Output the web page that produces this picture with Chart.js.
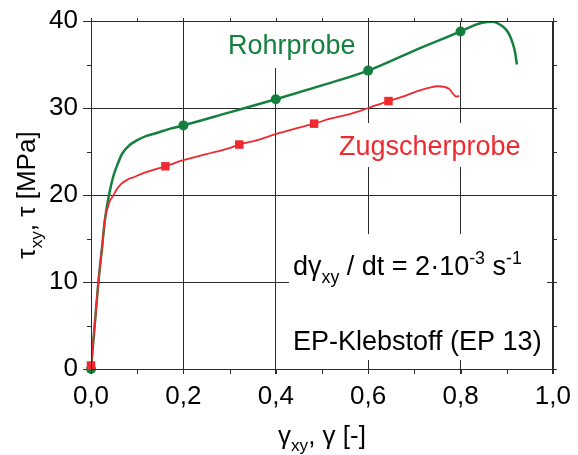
<!DOCTYPE html>
<html>
<head>
<meta charset="utf-8">
<script src="https://cdn.jsdelivr.net/npm/chart.js@4.4.1/dist/chart.umd.min.js"></script>
<style>
  html, body { margin: 0; padding: 0; background: #fff; }
  #wrap { width: 578px; height: 455px; }
</style>
</head>
<body>
<div id="wrap"><canvas id="c" width="578" height="455"></canvas></div>
<script>
// ---- data ----
const xTickValues = [0, 0.2, 0.4, 0.6, 0.8, 1.0];
const yTickValues = [0, 10, 20, 30, 40];

const gammaRohr = [0, 0.008, 0.016, 0.024, 0.030, 0.039, 0.048, 0.058, 0.068, 0.085, 0.10, 0.12, 0.14, 0.17, 0.20, 0.30, 0.40, 0.50, 0.60, 0.70, 0.80, 0.829, 0.847, 0.869, 0.885, 0.897, 0.905, 0.912, 0.918, 0.922];
const tauRohr   = [0, 5, 10, 14, 17.1, 20, 22.1, 23.6, 24.8, 25.8, 26.3, 26.8, 27.1, 27.6, 28.0, 29.5, 31.0, 32.6, 34.3, 36.6, 38.8, 39.5, 39.8, 39.9, 39.6, 39.1, 38.5, 37.6, 36.4, 35.0];

const gammaZug = [0, 0.008, 0.016, 0.024, 0.030, 0.040, 0.049, 0.055, 0.066, 0.080, 0.095, 0.108, 0.13, 0.161, 0.20, 0.25, 0.30, 0.321, 0.36, 0.40, 0.44, 0.483, 0.52, 0.56, 0.60, 0.644, 0.68, 0.705, 0.73, 0.751, 0.775, 0.786, 0.791, 0.797];
const tauZug   = [0.4, 5, 10, 14, 17.1, 19.2, 20.0, 20.6, 21.3, 21.8, 22.1, 22.4, 22.8, 23.3, 24.0, 24.7, 25.4, 25.8, 26.3, 27.0, 27.6, 28.2, 28.8, 29.3, 30.0, 30.8, 31.4, 31.9, 32.3, 32.5, 32.2, 31.5, 31.3, 31.4];

const markRohrX = [0, 0.2, 0.4, 0.6, 0.8];
const markRohrY = [0, 28.0, 31.0, 34.3, 38.8];
const markZugX  = [0, 0.161, 0.321, 0.483, 0.644];
const markZugY  = [0.4, 23.3, 25.8, 28.2, 30.8];

const labelRohr = 'Rohrprobe';
const labelZug  = 'Zugscherprobe';
const labelMaterial = 'EP-Klebstoff (EP 13)';

// ---- styles ----
const GREEN = '#15803d';
const RED = '#ee2a30';
const GRID = '#2a2a2a';
const FONT = '"Liberation Sans", Arial, Helvetica, sans-serif';

const pts = (xs, ys) => xs.map((v, i) => ({ x: v, y: ys[i] }));

// rich text helper: parts = [{t, s}] s: 0 normal, -1 sub, 1 sup
function richWidth(ctx, parts, size) {
  let w = 0;
  for (const p of parts) {
    const fs = p.s ? size * 0.66 : size;
    ctx.font = fs + 'px ' + FONT;
    w += ctx.measureText(p.t).width;
  }
  return w;
}
function drawRich(ctx, parts, x, y, size, align) {
  const w = richWidth(ctx, parts, size);
  let cx = align === 'center' ? x - w / 2 : x;
  ctx.textAlign = 'left';
  ctx.textBaseline = 'alphabetic';
  for (const p of parts) {
    const fs = p.s ? size * 0.66 : size;
    ctx.font = fs + 'px ' + FONT;
    let dy = 0;
    if (p.s === -1) dy = size * 0.28;
    if (p.s === 1) dy = -size * 0.42;
    ctx.fillText(p.t, cx, y + dy);
    cx += ctx.measureText(p.t).width;
  }
}

const decor = {
  id: 'decor',
  beforeDatasetsDraw(chart) {
    const ctx = chart.ctx;
    ctx.save();
    ctx.fillStyle = '#fff';
    // white label boxes masking the grid
    ctx.fillRect(220, 22, 142, 46);
    ctx.fillRect(333, 123, 194, 44);
    ctx.fillRect(289, 234, 258, 126);
    ctx.restore();
  },
  afterDraw(chart) {
    const { ctx, chartArea: a, scales: { x, y } } = chart;
    ctx.save();
    ctx.strokeStyle = GRID;
    ctx.lineWidth = 1;
    ctx.beginPath();
    // frame
    ctx.rect(Math.round(a.left) + 0.5, Math.round(a.top) + 0.5, Math.round(a.right - a.left), Math.round(a.bottom - a.top));
    // x ticks: major + minor (midpoints of library ticks)
    const xt = x.ticks.map(t => t.value);
    const xAll = [];
    xt.forEach((v, i) => { xAll.push([v, true]); if (i < xt.length - 1) xAll.push([(v + xt[i + 1]) / 2, false]); });
    for (const [v, major] of xAll) {
      const px = Math.round(x.getPixelForValue(v)) + 0.5;
      ctx.moveTo(px, a.bottom); ctx.lineTo(px, a.bottom + 5);
      ctx.moveTo(px, a.top); ctx.lineTo(px, a.top - 3);
    }
    const yt = y.ticks.map(t => t.value);
    const yAll = [];
    yt.forEach((v, i) => { yAll.push([v, true]); if (i < yt.length - 1) yAll.push([(v + yt[i + 1]) / 2, false]); });
    for (const [v, major] of yAll) {
      const py = Math.round(y.getPixelForValue(v)) + 0.5;
      if (!major) { ctx.moveTo(a.left - 4, py); ctx.lineTo(a.left, py); }
      ctx.moveTo(a.right, py); ctx.lineTo(a.right + 4, py);
    }
    ctx.stroke();

    // labels
    ctx.fillStyle = GREEN;
    ctx.font = '27px ' + FONT;
    ctx.textBaseline = 'alphabetic';
    ctx.textAlign = 'left';
    ctx.fillText(labelRohr, 228, 54);
    ctx.fillStyle = RED;
    ctx.fillText(labelZug, 339, 155);
    ctx.fillStyle = '#000';
    drawRich(ctx, [{ t: 'd\u03B3' }, { t: 'xy', s: -1 }, { t: ' / dt = 2\u00B710' }, { t: '-3', s: 1 }, { t: ' s' }, { t: '-1', s: 1 }], 293, 275, 27, 'left');
    ctx.font = '27px ' + FONT;
    ctx.fillText(labelMaterial, 293, 350);

    // axis titles
    drawRich(ctx, [{ t: '\u03B3' }, { t: 'xy', s: -1 }, { t: ', \u03B3 [-]' }], (a.left + a.right) / 2, 444, 26, 'center');
    ctx.translate(35, (a.top + a.bottom) / 2);
    ctx.rotate(-Math.PI / 2);
    drawRich(ctx, [{ t: '\u03C4' }, { t: 'xy', s: -1 }, { t: ', \u03C4 [MPa]' }], 0, 0, 26, 'center');
    ctx.restore();
  }
};

new Chart(document.getElementById('c'), {
  type: 'line',
  data: {
    datasets: [
      { data: pts(markZugX, markZugY), showLine: false, clip: false, pointStyle: 'rect', pointRadius: 6, pointBackgroundColor: RED, pointBorderWidth: 0, borderColor: RED },
      { data: pts(gammaZug, tauZug), borderColor: RED, borderWidth: 1.8, pointRadius: 0, cubicInterpolationMode: 'monotone', fill: false },
      { data: pts(markRohrX, markRohrY), showLine: false, clip: false, pointStyle: 'circle', pointRadius: 5, pointBackgroundColor: GREEN, pointBorderWidth: 0, borderColor: GREEN },
      { data: pts(gammaRohr, tauRohr), borderColor: GREEN, borderWidth: 2.5, pointRadius: 0, cubicInterpolationMode: 'monotone', fill: false }
    ]
  },
  options: {
    responsive: false,
    devicePixelRatio: 1,
    animation: false,
    layout: { padding: { left: 0, top: 21, right: 20, bottom: 0 } },
    plugins: { legend: { display: false }, tooltip: { enabled: false } },
    scales: {
      x: {
        type: 'linear', min: 0, max: 1,
        afterBuildTicks: s => { s.ticks = xTickValues.map(v => ({ value: v })); },
        afterFit: s => { s.height = 86; },
        grid: { color: GRID, lineWidth: 1, drawTicks: true, tickLength: 5, tickColor: GRID },
        border: { display: true, color: GRID, width: 1 },
        ticks: { color: '#000', font: { family: FONT, size: 26 }, padding: 7, maxRotation: 0,
                 callback: v => v.toFixed(1).replace('.', ',') }
      },
      y: {
        type: 'linear', min: 0, max: 40,
        afterBuildTicks: s => { s.ticks = yTickValues.map(v => ({ value: v })); },
        afterFit: s => { s.width = 91; },
        grid: { color: GRID, lineWidth: 1, drawTicks: true, tickLength: 8, tickColor: GRID },
        border: { display: true, color: GRID, width: 1 },
        ticks: { color: '#000', font: { family: FONT, size: 26 }, padding: 5,
                 callback: v => String(v) }
      }
    }
  },
  plugins: [decor]
});
</script>
</body>
</html>
